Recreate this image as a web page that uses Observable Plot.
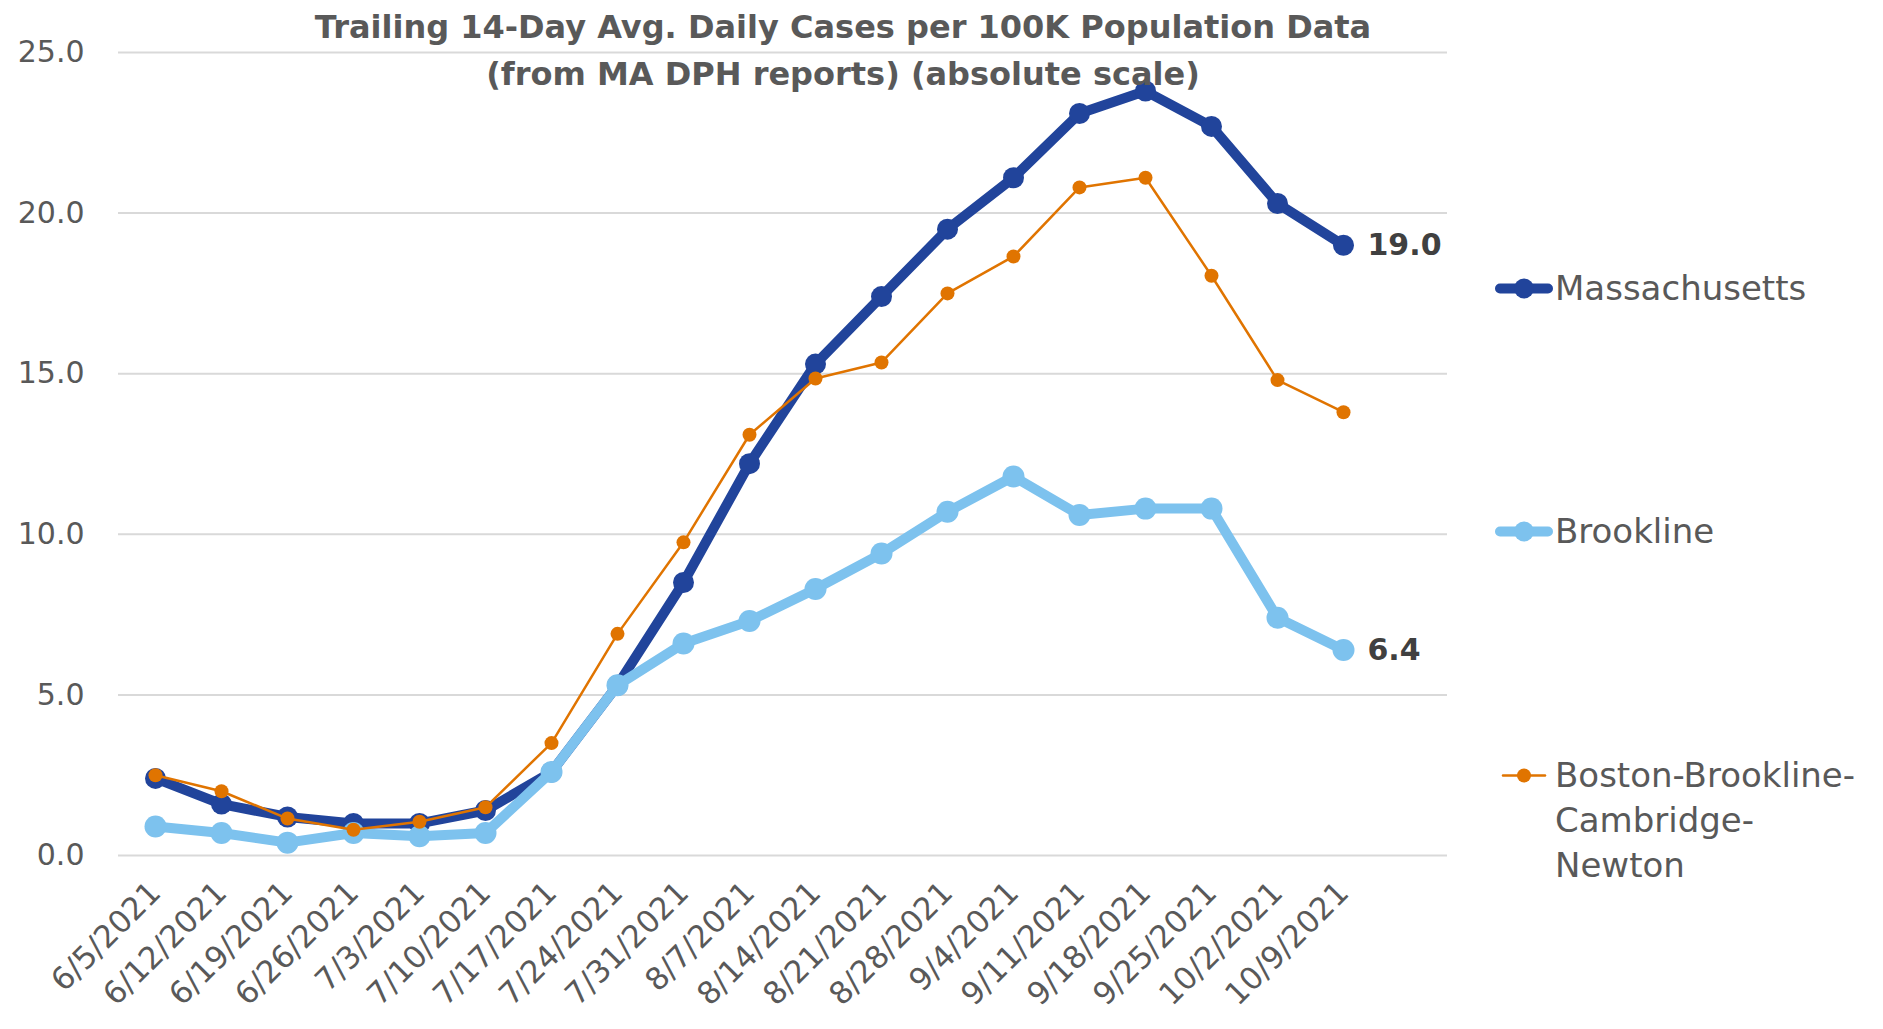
<!DOCTYPE html>
<html>
<head>
<meta charset="utf-8">
<script src="https://cdn.jsdelivr.net/npm/d3@7"></script>
<script src="https://cdn.jsdelivr.net/npm/@observablehq/plot@0.6"></script>
<style>
  html, body { margin: 0; padding: 0; background: #fff; }
  #wrap { position: relative; width: 1883px; height: 1029px; font-family: "DejaVu Sans", sans-serif; }
  #title { position: absolute; left: 0; width: 1686px; top: 4px; text-align: center; font-weight: bold; font-size: 32px; line-height: 47px; color: #595959; z-index: 2; pointer-events: none; }
  #legend { position: absolute; left: 1495px; top: 0; width: 388px; height: 1029px; color: #595959; font-size: 34px; }
  .item { position: absolute; left: 0; display: flex; align-items: flex-start; }
  .item svg { flex: none; }
  .item span { line-height: 45px; margin-left: 2px; white-space: nowrap; }
</style>
</head>
<body>
<div id="wrap">
  <div id="title">Trailing 14-Day Avg. Daily Cases per 100K Population Data<br>(from MA DPH reports) (absolute scale)</div>
  <div id="chart"></div>
  <div id="legend"></div>
</div>
<script>
const dates = ["6/5/2021","6/12/2021","6/19/2021","6/26/2021","7/3/2021","7/10/2021","7/17/2021","7/24/2021","7/31/2021","8/7/2021","8/14/2021","8/21/2021","8/28/2021","9/4/2021","9/11/2021","9/18/2021","9/25/2021","10/2/2021","10/9/2021"];
const massachusetts = [2.4,1.6,1.2,1.0,1.0,1.4,2.6,5.3,8.5,12.2,15.3,17.4,19.5,21.1,23.1,23.8,22.7,20.3,19.0];
const brookline = [0.9,0.7,0.4,0.7,0.6,0.7,2.6,5.3,6.6,7.3,8.3,9.4,10.7,11.8,10.6,10.8,10.8,7.4,6.4];
const bbcn = [2.5,2.0,1.15,0.8,1.05,1.5,3.5,6.9,9.75,13.1,14.85,15.35,17.5,18.65,20.8,21.1,18.05,14.8,13.8];
const yTicks = [0,5,10,15,20,25];
const seriesNames = ["Massachusetts","Brookline","Boston-Brookline-Cambridge-Newton"];
const legendLabels = [["Massachusetts"],["Brookline"],["Boston-Brookline-","Cambridge-","Newton"]];
const colors = ["#21449B","#7DC2EE","#E07400"];

const rows = (vals) => dates.map((d, i) => ({date: d, value: vals[i]}));
const ma = rows(massachusetts), br = rows(brookline), bo = rows(bbcn);
const last = (arr) => [{...arr[arr.length - 1], label: d3.format(".1f")(arr[arr.length - 1].value)}];

const plot = Plot.plot({
  width: 1883,
  height: 1029,
  marginLeft: 118,
  marginRight: 436,
  marginTop: 52,
  marginBottom: 174,
  style: {fontFamily: "DejaVu Sans, sans-serif", color: "#595959", background: "transparent"},
  x: {type: "point", domain: dates, padding: 0, insetLeft: 33, insetRight: 100, label: null},
  y: {domain: [0, 25], label: null},
  marks: [
    Plot.ruleY(yTicks, {stroke: "#d9d9d9", strokeWidth: 2}),
    Plot.axisY({ticks: yTicks, tickSize: 0, tickPadding: 34, tickFormat: d3.format(".1f"), fontSize: 30, fill: "#595959"}),
    Plot.axisX({tickSize: 0, tickPadding: 32, tickRotate: -45, fontSize: 31, fill: "#595959"}),
    Plot.line(ma, {x: "date", y: "value", stroke: colors[0], strokeWidth: 10}),
    Plot.dot(ma, {x: "date", y: "value", fill: colors[0], r: 10.5}),
    Plot.line(br, {x: "date", y: "value", stroke: colors[1], strokeWidth: 10}),
    Plot.dot(br, {x: "date", y: "value", fill: colors[1], r: 11}),
    Plot.line(bo, {x: "date", y: "value", stroke: colors[2], strokeWidth: 2.5}),
    Plot.dot(bo, {x: "date", y: "value", fill: colors[2], r: 7}),
    Plot.text(last(ma), {x: "date", y: "value", text: "label", dx: 24, textAnchor: "start", fontWeight: "bold", fontSize: 30, fill: "#404040"}),
    Plot.text(last(br), {x: "date", y: "value", text: "label", dx: 24, textAnchor: "start", fontWeight: "bold", fontSize: 30, fill: "#404040"})
  ]
});
document.getElementById("chart").appendChild(plot);

// Legend
const legend = document.getElementById("legend");
const legendY = [288, 531, 775];
seriesNames.forEach((name, i) => {
  const item = document.createElement("div");
  item.className = "item";
  item.style.top = (legendY[i] - 22) + "px";
  const thick = i < 2;
  item.innerHTML = `<svg width="58" height="45"><line x1="${thick ? 5 : 8}" x2="${thick ? 53 : 50}" y1="22.5" y2="22.5" stroke="${colors[i]}" stroke-width="${thick ? 10 : 2.5}" stroke-linecap="round"/><circle cx="29" cy="22.5" r="${thick ? 10 : 7}" fill="${colors[i]}"/></svg><span>${legendLabels[i].join("<br>")}</span>`;
  legend.appendChild(item);
});
</script>
</body>
</html>
